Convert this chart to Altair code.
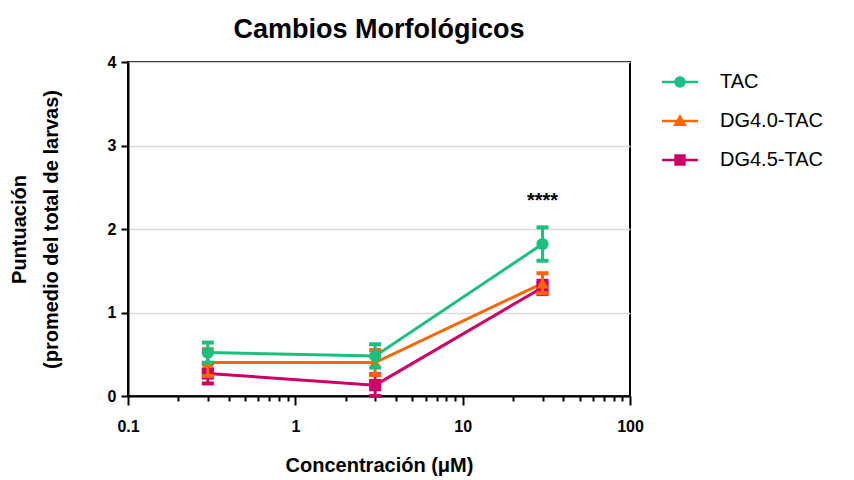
import altair as alt
import pandas as pd

# ---- data ----
series = ["TAC", "DG4.0-TAC", "DG4.5-TAC"]
conc = [0.3, 3, 30]
tac_mean = [0.52, 0.48, 1.82]
tac_err = [0.12, 0.14, 0.20]
dg40_mean = [0.40, 0.40, 1.35]
dg40_err = [0.16, 0.15, 0.12]
dg45_mean = [0.27, 0.13, 1.30]
dg45_err = [0.12, 0.13, 0.08]
signif_x = [30]
signif_y = [2.33]
signif_text = ["****"]

x_ticks = [0.1, 0.2, 0.3, 0.4, 0.5, 0.6, 0.7, 0.8, 0.9,
           1, 2, 3, 4, 5, 6, 7, 8, 9,
           10, 20, 30, 40, 50, 60, 70, 80, 90, 100]
y_ticks = [0, 1, 2, 3, 4]

colors = ["#1dbf80", "#ff6600", "#cc0066"]
shapes = ["circle", "triangle-up", "square"]
legend_paths = [
    "M-3,-0.22L3,-0.22L3,0.22L-3,0.22Z M-0.95,0A0.95,0.95 0 1,1 0.95,0A0.95,0.95 0 1,1 -0.95,0Z",
    "M-3,-0.22L3,-0.22L3,0.22L-3,0.22Z M0,-1.15L1.15,0.85L-1.15,0.85Z",
    "M-3,-0.22L3,-0.22L3,0.22L-3,0.22Z M-0.95,-0.95L0.95,-0.95L0.95,0.95L-0.95,0.95Z",
]

rows = []
for s, means, errs in zip(series, [tac_mean, dg40_mean, dg45_mean], [tac_err, dg40_err, dg45_err]):
    for c, m, e in zip(conc, means, errs):
        rows.append({"serie": s, "conc": c, "mean": m, "lo": m - e, "hi": m + e})
df = pd.DataFrame(rows)
sig = pd.DataFrame({"conc": signif_x, "mean": signif_y, "txt": signif_text})

FONT = "Liberation Sans"
major_test = "indexof([0.1, 1, 10, 100], datum.value) >= 0"

xscale = alt.Scale(type="log", domain=[0.1, 100])
yscale = alt.Scale(domain=[0, 4])
xaxis = alt.Axis(
    values=x_ticks,
    labelExpr=major_test + " ? '' + datum.value : ''",
    title="Concentración (μM)",
    titleFontSize=20, titleFontWeight="bold", titleFont=FONT, titleColor="black",
    titlePadding=21,
    labelFontSize=16, labelFontWeight="bold", labelFont=FONT, labelColor="black",
    labelPadding=13, labelFlush=False, labelOverlap=False,
    tickColor="black", tickWidth=2,
    tickSize={"condition": {"test": major_test, "value": 9}, "value": 5},
    domainColor="black", domainWidth=2, grid=False,
)
yaxis = alt.Axis(
    values=y_ticks, format="d",
    title=["Puntuación", "(promedio del total de larvas)"],
    titleFontSize=20, titleFontWeight="bold", titleFont=FONT, titleColor="black",
    titleLineHeight=32, titlePadding=46,
    labelFontSize=16, labelFontWeight="bold", labelFont=FONT, labelColor="black",
    labelPadding=5,
    tickColor="black", tickWidth=2, tickSize=7,
    domainColor="black", domainWidth=2,
    grid=True, gridColor="#d9d9d9", gridWidth=1.5,
)

base = alt.Chart(df).encode(
    x=alt.X("conc:Q", scale=xscale, axis=xaxis),
    y=alt.Y("mean:Q", scale=yscale, axis=yaxis),
)

layers = []
for s, col in zip(reversed(series), reversed(colors)):
    sub = base.transform_filter(alt.datum.serie == s)
    layers.append(sub.mark_line(strokeWidth=3, color=col))
for s, sh, col in zip(reversed(series), reversed(shapes), reversed(colors)):
    sub = base.transform_filter(alt.datum.serie == s)
    layers.append(sub.mark_rule(strokeWidth=3, color=col, opacity=1).encode(y="lo:Q", y2="hi:Q"))
    layers.append(sub.mark_tick(orient="horizontal", size=12, thickness=4, color=col, opacity=1).encode(y="hi:Q"))
    layers.append(sub.mark_tick(orient="horizontal", size=12, thickness=4, color=col, opacity=1).encode(y="lo:Q"))
    layers.append(sub.mark_point(shape=sh, filled=True, size=150, opacity=1, color=col))

legend_cfg = dict(
    title=None, orient="none", legendX=542, legendY=10,
    symbolSize=144, symbolStrokeWidth=0, symbolOpacity=1,
    labelFont=FONT, labelFontSize=20, labelColor="black", labelOffset=30,
    rowPadding=19,
)
legend_layer = alt.Chart(df).transform_filter("false").mark_point(filled=True, opacity=1).encode(
    x=alt.X("conc:Q", scale=xscale, axis=xaxis),
    y=alt.Y("mean:Q", scale=yscale, axis=yaxis),
    color=alt.Color("serie:N", scale=alt.Scale(domain=series, range=colors),
                    legend=alt.Legend(**legend_cfg)),
    shape=alt.Shape("serie:N", scale=alt.Scale(domain=series, range=legend_paths),
                    legend=alt.Legend(**legend_cfg)),
)
layers.append(legend_layer)

stars = alt.Chart(sig).mark_text(fontSize=20, fontWeight="bold", font=FONT, color="black").encode(
    x=alt.X("conc:Q", scale=xscale, axis=xaxis),
    y=alt.Y("mean:Q", scale=yscale, axis=yaxis),
    text="txt:N",
)
layers.append(stars)

chart = alt.layer(*layers).properties(
    width=502, height=334,
    title=alt.TitleParams("Cambios Morfológicos", fontSize=27, fontWeight="bold", font=FONT,
                          color="black", anchor="middle", offset=10),
    autosize=alt.AutoSizeParams(type="none"),
    padding={"left": 120, "top": 54, "right": 200, "bottom": 84},
).configure_view(stroke="black", strokeWidth=2)

chart.save("out.html", embed_options={"renderer": "svg", "actions": False})
